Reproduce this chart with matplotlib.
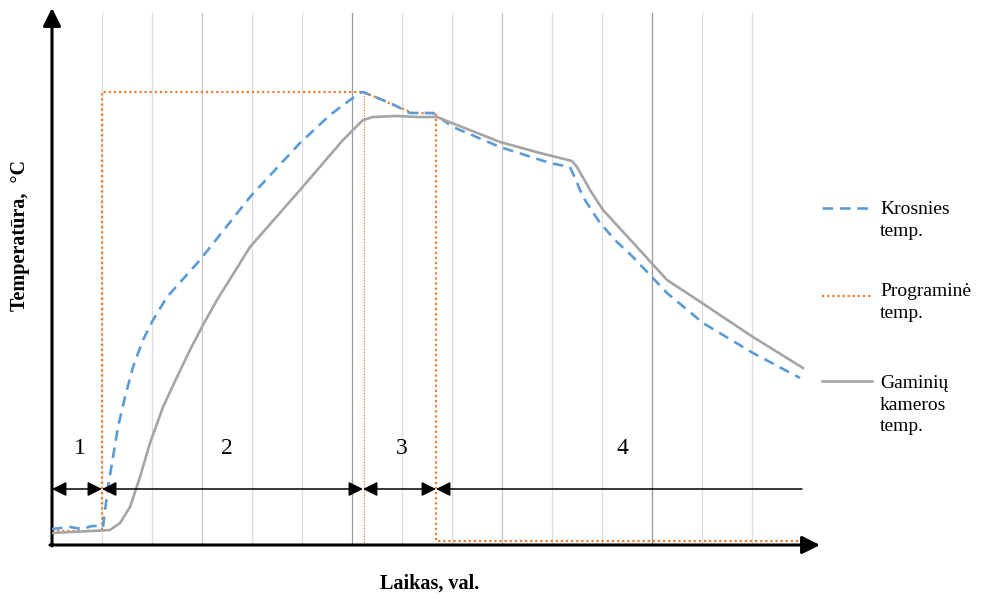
import numpy as np
import matplotlib.pyplot as plt
from matplotlib.lines import Line2D

plt.rcParams['font.family'] = ['Liberation Serif', 'DejaVu Serif']

# ---------------------------------------------------
# data (time in grid steps, temperature in arbitrary units)
# ---------------------------------------------------
prog_t = [0, 1.0, 1.0, 6.22, 7.22, 7.68, 7.68, 15.0]
prog_T = [28, 28, 906, 906, 864, 864, 8, 8]

furn_t = [0, 0.36, 0.6, 0.8, 1.0, 1.02, 1.12, 1.22, 1.32, 1.46, 1.62, 1.82, 2.02, 2.3,
          2.96, 3.96, 4.96, 5.56, 5.96, 6.16, 6.22, 6.76, 7.16, 7.62, 8.02, 8.96, 9.96,
          10.36, 10.46, 10.62, 10.96, 11.3, 11.62, 12.3, 13.02, 14.02, 14.96]
furn_T = [32, 36, 32, 38, 38, 36, 116, 176, 236, 296, 356, 410, 450, 496,
          570, 696, 804, 860, 890, 904, 906, 884, 864, 864, 836, 796, 764,
          756, 734, 696, 644, 606, 576, 504, 444, 384, 334]

prod_t = [0, 1.16, 1.36, 1.56, 1.76, 1.96, 2.22, 2.5, 2.76, 3.02, 3.3, 3.96, 4.96, 5.82,
          6.22, 6.42, 6.9, 7.3, 7.7, 8.1, 8.96, 9.76, 10.4, 10.5, 10.76, 11.02, 11.7,
          12.3, 12.76, 13.36, 14.02, 15.02]
prod_T = [24, 30, 44, 76, 136, 204, 276, 336, 390, 440, 490, 596, 710, 810,
          850, 856, 858, 856, 856, 840, 806, 784, 768, 756, 710, 670, 596,
          530, 500, 460, 416, 354]

stage_bounds = [0, 1.0, 6.22, 7.68, 15.0]
stage_names = ['1', '2', '3', '4']
stage_label_t = [0.56, 3.5, 7.0, 11.4]

grid_t = np.arange(1, 15)

labels = ['Krosnies\ntemp.', 'Programinė\ntemp.', 'Gaminių\nkameros\ntemp.']
c_furn = '#5B9BD5'
c_prog = '#ED7D31'
c_prod = '#A5A5A5'

fig = plt.figure(figsize=(9.82, 5.98), dpi=100)
ax = fig.add_axes([52 / 982, 53 / 598, 768 / 982, 537 / 598])
ax.set_xlim(0, 15.36)
ax.set_ylim(0, 1074)
ax.axis('off')

# vertical grid
for t in grid_t:
    if t % 6 == 0:
        col = '#9A9A9A'
    elif t % 3 == 0:
        col = '#C4C4C4'
    else:
        col = '#DCDCDC'
    ax.plot([t, t], [0, 1064], color=col, lw=0.9, zorder=1)

# boundary between stage 2 and 3
ax.plot([6.24, 6.24], [0, 906], color=c_prog, lw=0.9, ls=(0, (1, 1.2)), zorder=2)

ax.plot(prog_t, prog_T, color=c_prog, lw=1.6, ls=(0, (1, 1.3)), zorder=3)
ax.plot(furn_t, furn_T, color=c_furn, lw=1.9, ls=(0, (4, 2.6)), zorder=4)
ax.plot(prod_t, prod_T, color=c_prod, lw=1.9, zorder=5, solid_joinstyle='round')

# stage arrows
row = 112
for i in range(4):
    style = '<|-|>,head_length=0.6,head_width=0.3' if i < 3 else '<|-,head_length=0.6,head_width=0.3'
    ax.annotate('', xy=(stage_bounds[i + 1], row), xytext=(stage_bounds[i], row),
                arrowprops=dict(arrowstyle=style, color='black', lw=1.1,
                                mutation_scale=14.4, shrinkA=0, shrinkB=0), zorder=6)
    ax.text(stage_label_t[i], 194, stage_names[i], ha='center', va='center', fontsize=17)

# axes with arrow heads
arr = dict(arrowstyle='-|>,head_length=0.6,head_width=0.3', color='black', lw=2.2,
           mutation_scale=18, shrinkA=0, shrinkB=0)
ax.annotate('', xy=(15.36, 0), xytext=(-0.04, 0), arrowprops=arr, annotation_clip=False)
ax.annotate('', xy=(0, 1074), xytext=(0, -2), arrowprops=arr, annotation_clip=False)

fig.text(430 / 982, 1 - 584 / 598, 'Laikas, val.', ha='center', va='center',
         fontsize=14.5, fontweight='bold')
fig.text(20 / 982, 1 - 235 / 598, 'Temperatūra,  °C', ha='center', va='center',
         rotation=90, fontsize=14.5, fontweight='bold')

# legend drawn by hand
def px(x, y):
    return x / 982, 1 - y / 598

entries = [(c_furn, (0, (4, 2.6)), 1.9, 208, 208),
           (c_prog, (0, (1, 1.3)), 1.6, 296, 290),
           (c_prod, '-', 1.9, 381, 382)]
for (col, ls, lw, ly, ty), lab in zip(entries, labels):
    x0, y0 = px(822, ly)
    x1, _ = px(872, ly)
    fig.add_artist(Line2D([x0, x1], [y0, y0], color=col, ls=ls, lw=lw))
    tx, tyy = px(880, ty - 7)
    fig.text(tx, tyy, lab, ha='left', va='top', fontsize=14, linespacing=1.35)

fig.savefig('out.png', dpi=100)
